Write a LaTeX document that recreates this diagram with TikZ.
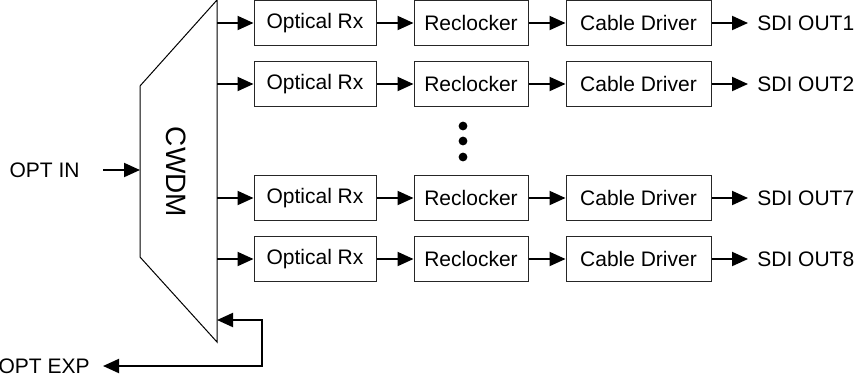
\documentclass[tikz,border=0pt]{standalone}
\usepackage{fontspec}
\setmainfont{Liberation Sans}
\usetikzlibrary{arrows.meta,positioning}
\tikzset{
  >={Triangle[length=8pt,width=7pt]},
  % blocks
  blk/.style={draw=black!85,line width=0.5pt,minimum height=22.5pt,inner sep=0pt,
              font=\fontsize{10.5}{12}\selectfont},
  sig/.style={->,draw=black,line width=1pt},
  lbl/.style={inner sep=0pt,font=\fontsize{10.5}{12}\selectfont},
}
\begin{document}
\begin{tikzpicture}[x=0.5pt,y=-0.5pt]
  \useasboundingbox (0,0) rectangle (854,376);
  % CWDM
  \draw[line width=0.5pt] (217,0) -- (140,86) -- (140,257) -- (217,342) -- cycle;
  \node[rotate=-90,font=\fontsize{14}{16}\selectfont] (cwdm) at (176,172) {CWDM};
  \coordinate (cwdmin) at (140,170);
  \coordinate (cwdmexp) at (217,320);
  \coordinate (bend) at (262,366);
  \node[lbl,anchor=east] (optin) at (80,170) {OPT IN};
  \node[lbl,anchor=east] (optexp) at (90,366) {OPT EXP};
  \draw[sig] ([xshift=11.5pt]optin.east) -- (cwdmin);
  \draw[sig,<->] (cwdmexp) -| (bend) -- ([xshift=6.5pt]optexp.east);
  % channels
  \foreach \y/\n in {23/1,84/2,198/7,259/8} {
    \coordinate (tap\n) at (217,\y);
    \node[blk,minimum width=61pt] (rx\n) at (315,\y) {Optical Rx};
    \node[blk,minimum width=57pt] (rc\n) at (471,\y) {Reclocker};
    \node[blk,minimum width=72.5pt] (cd\n) at (638.5,\y) {Cable Driver};
    \node[lbl,anchor=west] (out\n) at (757,\y) {SDI OUT\n};
    \draw[sig] (tap\n) -- (rx\n);
    \draw[sig] (rx\n) -- (rc\n);
    \draw[sig] (rc\n) -- (cd\n);
    \draw[sig] (cd\n) -- ([xshift=-4.5pt]out\n.west);
  }
  \foreach \y in {126,141,157} \fill (463,\y) circle (2.2pt);
\end{tikzpicture}
\end{document}
